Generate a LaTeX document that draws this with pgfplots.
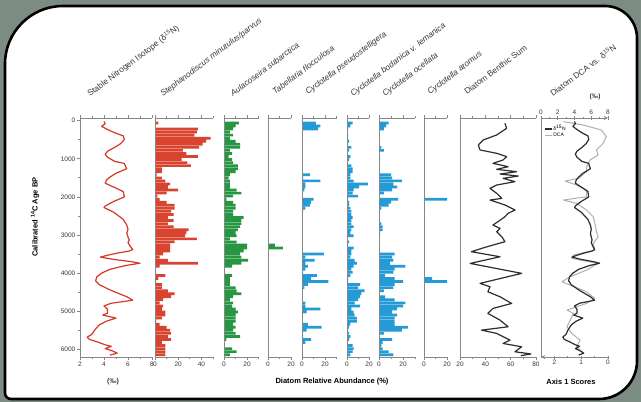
\documentclass[border=0pt]{standalone}
\usepackage{fontspec}
\setmainfont{Liberation Sans}
\usepackage{pgfplots}
\usepackage{pgfplotstable}
\pgfplotsset{compat=1.18}
\definecolor{bgg}{RGB}{124,140,130}
\definecolor{axg}{RGB}{135,135,135}
\definecolor{tlab}{RGB}{55,55,55}
\definecolor{redl}{RGB}{214,56,40}
\definecolor{redf}{RGB}{216,68,48}
\definecolor{grnf}{RGB}{38,150,66}
\definecolor{bluf}{RGB}{36,155,215}
\definecolor{dkl}{RGB}{45,45,45}
\definecolor{dcag}{RGB}{175,175,175}

\pgfplotstableread{
age steph aula tab pseudo bod oce atom
60 3 13 0 12 5 8 0
140 0 10 0 16 3 6 0
220 37 8 0 14 1 4 0
300 36 5 0 0 0 0 0
380 34 8 0 0 1 0 0
460 48 5 0 0 1 0 0
540 44 10 0 0 2 0 0
620 41 14 0 0 1 0 0
700 38 14 0 0 4 2 0
780 24 5 0 0 2 4 0
860 27 7 0 0 0 0 0
940 37 4 0 0 3 0 0
1020 23 7 0 0 2 1 0
1100 28 8 0 0 0 0 0
1180 31 12 0 0 4 0 0
1260 6 12 0 0 5 0 0
1340 6 10 0 0 5 0 0
1420 1.5 5 0 7 3 10 0
1500 6 4 0 1 3 11 0
1580 9 5 0 16 6 19 0
1660 13 5 0 3 19 12 0
1740 11 5 0 3 11 15 0
1820 20 11 0 2 6 11 0
1900 10 15 0 0 5 4 0
1980 2 8 0 0 10 0 0
2060 4 2 0 10 1 16 20
2140 10 8 0 8 2 10 0
2220 17 10 0 7 2 8 0
2300 17 10 0 3 3 2 1
2380 14 8 0 1 4 0 0
2460 16 8 0 0 4 0 0
2540 11 17 0 0 5 0 0
2620 16 15 0 0 4 0 0
2700 11 15 0 0 4 2 0
2780 16 14 0 0 6 3 0
2860 29 12 0 0 4 3 0
2940 27 10 0 0 3 1 0
3020 26 11 0 0 6 0 0
3100 36 5 0 0 0 0 0
3180 17 11 0 0 2 0 0
3260 13 20 6 0 0 0 0
3340 13 20 13 0 6 0 0
3420 13 17 0 0 4 0 0
3500 7 14 0 19 4 13 0
3580 4 15 0 3 3 11 0
3660 11 21 0 11 7 12 0
3740 37 15 0 3 9 9 0
3820 4 7 0 5 6 22 0
3900 0 0 0 3 4 13 0
3980 1 1 0 0 5 12 0
4060 9 7 0 13 3 5 0
4140 3 5 0 8 1 13 7
4220 1 5 0 23 1 20 20
4300 6 5 0 5 12 13 0
4380 6 10 0 2 10 12 0
4460 11 11 0 0 16 4 0
4540 17 15 0 0 13 0 0
4620 14 8 0 0 12 5 0
4700 7 5 0 0 10 13 0
4780 4 8 0 3 7 22 0
4860 7 7 0 3 12 20 0
4940 6 10 0 16 4 15 0
5020 9 12 0 4 6 11 0
5100 9 10 0 0 7 15 0
5180 6 10 0 0 9 13 0
5260 1 10 0 0 9 13 0
5340 4 8 0 5 3 13 0
5420 10 10 0 17 2 24 0
5500 13 8 0 4 1 19 0
5580 14 10 0 0 2 4 0
5660 11 14 0 1 3 0 0
5740 14 2 0 8 2 11 0
5820 6 0 0 3 0 3 0
5900 9 0 0 0 5 2 0
5980 9 7 0 0 6 3 0
6060 9 11 0 0 5 8 0
6140 9 5 0 0 3 12 0
}\bars

\pgfplotstableread{
age val
20 4.0
80 4.1
150 3.8
250 4.4
330 5.0
400 5.6
490 5.7
600 5.4
700 4.9
800 4.3
880 4.1
960 4.3
1070 4.9
1120 5.7
1200 5.8
1260 5.9
1380 5.0
1480 4.5
1560 4.2
1640 4.1
1770 5.0
1860 5.6
2000 5.7
2120 4.8
2240 4.1
2280 4.0
2400 4.8
2590 5.6
2740 5.9
2850 6.0
2960 5.9
3050 6.0
3130 6.1
3200 6.0
3300 6.2
3380 6.4
3420 6.1
3470 5.2
3530 4.3
3580 3.7
3640 4.8
3700 6.3
3740 7.0
3800 5.8
3900 4.5
4000 3.8
4100 3.4
4200 3.3
4300 3.6
4440 4.5
4620 5.9
4710 6.4
4790 4.6
4860 4.0
4950 4.3
5050 4.3
5100 3.9
5180 5.0
5260 4.2
5360 3.6
5500 3.2
5600 3.0
5680 2.6
5740 2.8
5800 3.4
5880 4.1
5920 4.6
5980 4.1
6040 4.7
6100 5.1
6150 4.5
}\dnf

\pgfplotstableread{
age val
69 55.5
200 56.8
375 49
506 38.4
638 34.5
769 35.8
857 49
944 56.8
1032 54
1119 46
1207 58
1277 49
1338 64.7
1400 51.6
1453 66
1513 54
1600 63.4
1688 49
1776 43.7
1907 49
2038 53
2082 43.7
2213 55.5
2344 63.4
2431 58
2519 55.5
2650 50
2738 46
2826 51.6
2913 49
3044 53
3176 55.5
3263 46
3351 37
3438 29
3570 51.6
3745 28
4006 68.7
4269 35.8
4357 43.7
4488 42
4620 51.6
4795 60.8
4926 46
5057 42
5232 51.6
5407 58
5495 37
5582 49
5757 59.5
5845 54
5932 68.7
6063 63.4
6120 76
6165 68
}\benth

\pgfplotstableread{
age val
26 1.66
114 0.92
245 0.25
420 0.06
595 0.18
770 0.43
900 0.37
1032 0.67
1207 0.80
1339 0.80
1514 1.10
1584 1.60
1689 1.17
1820 0.80
1995 0.80
2082 1.66
2170 1.17
2345 0.80
2520 0.55
2695 0.49
2913 0.43
3045 0.37
3220 0.55
3395 0.49
3526 1.29
3613 1.35
3745 0.37
3920 0.80
4094 1.41
4226 1.72
4313 1.41
4488 0.80
4663 0.49
4794 0.80
4882 1.17
4969 1.53
5057 1.29
5232 1.41
5407 1.53
5582 1.35
5757 1.04
5932 1.17
6107 0.92
}\dca

\pgfplotsset{
 panel/.style={
  scale only axis, height=239pt, y dir=reverse, ymin=-70, ymax=6200,
  anchor=north west, enlargelimits=false,
  axis x line=box, axis y line=left,
  axis line style={-, draw=axg, line width=0.9pt},
  ytick=\empty,
  tick align=outside,
  major tick length=3pt, minor tick length=2pt,
  tick style={axg, line width=0.7pt},
  /pgf/number format/assume math mode=true,
  xticklabel style={font=\fontsize{6.5}{7}\selectfont, text=tlab, inner sep=1.5pt},
  yticklabel style={font=\fontsize{6.5}{7}\selectfont, text=tlab, inner sep=1.5pt},
  axis on top,
 },
 hb/.style={xbar, bar width=70, draw=none},
}

\begin{document}
\begin{tikzpicture}[x=1pt,y=1pt]
\fill[bgg] (0,0) rectangle (641,402);
\useasboundingbox (0,0) rectangle (641,402);
\draw[line width=2.6pt, fill=white] (5,9) -- (5,338) arc[start angle=180, end angle=90, radius=58pt]
  -- (605,396) arc[start angle=90, end angle=0, radius=32pt]
  -- (637,41) arc[start angle=0, end angle=-90, radius=38pt]
  -- (11,3) arc[start angle=270, end angle=180, radius=6pt] -- cycle;

% Panel 1: d15N
\begin{axis}[panel, at={(80pt,284pt)}, width=72pt, xmin=2, xmax=8,
  xtick={2,4,6,8}, minor xtick={3,5,7},
  ytick={0,1000,2000,3000,4000,5000,6000}, minor ytick={500,1500,2500,3500,4500,5500},
  yticklabel style={/pgf/number format/.cd, fixed, 1000 sep={}}]
\addplot[redl, line width=1.2pt, line join=round] table[x=val, y=age] {\dnf};
\end{axis}

% Panel 2
\begin{axis}[panel, at={(155pt,284pt)}, width=58pt, xmin=0, xmax=50,
  xtick={0,20,40}, minor xtick={10,30,50}]
\addplot[hb, fill=redf] table[x=steph, y=age] {\bars};
\end{axis}

% Panel 3
\begin{axis}[panel, at={(224pt,284pt)}, width=34.5pt, xmin=0, xmax=30,
  xtick={0,20}, minor xtick={10,30}]
\addplot[hb, fill=grnf] table[x=aula, y=age] {\bars};
\end{axis}

% Panel 4
\begin{axis}[panel, at={(268pt,284pt)}, width=23pt, xmin=0, xmax=20,
  xtick={0,20}, minor xtick={10}]
\addplot[hb, fill=grnf] table[x=tab, y=age] {\bars};
\end{axis}

% Panel 5
\begin{axis}[panel, at={(302pt,284pt)}, width=34.5pt, xmin=0, xmax=30,
  xtick={0,20}, minor xtick={10,30}]
\addplot[hb, fill=bluf] table[x=pseudo, y=age] {\bars};
\end{axis}

% Panel 6
\begin{axis}[panel, at={(347pt,284pt)}, width=22pt, xmin=0, xmax=20,
  xtick={0,20}, minor xtick={10}]
\addplot[hb, fill=bluf] table[x=bod, y=age] {\bars};
\end{axis}

% Panel 7
\begin{axis}[panel, at={(379pt,284pt)}, width=36pt, xmin=0, xmax=30,
  xtick={0,20}, minor xtick={10,30}]
\addplot[hb, fill=bluf] table[x=oce, y=age] {\bars};
\end{axis}

% Panel 8
\begin{axis}[panel, at={(424pt,284pt)}, width=23pt, xmin=0, xmax=20,
  xtick={0,20}, minor xtick={10}]
\addplot[hb, fill=bluf] table[x=atom, y=age] {\bars};
\end{axis}

% Panel 9
\begin{axis}[panel, at={(460pt,284pt)}, width=76pt, xmin=20, xmax=80,
  xtick={20,40,60,80}, minor xtick={30,50,70}]
\addplot[dkl, line width=1.2pt, line join=round] table[x=val, y=age] {\benth};
\end{axis}

% Panel 10: DCA (bottom, reversed)
\begin{axis}[panel, at={(541pt,284pt)}, width=67pt, xmin=0, xmax=2.5, x dir=reverse,
  axis x line=bottom, xtick={0,1,2}, minor xtick={0.5,1.5,2.5}]
\addplot[dcag, line width=1.0pt, line join=round] table[x=val, y=age] {\dca};
\end{axis}
% Panel 10: d15N (top)
\begin{axis}[panel, at={(541pt,284pt)}, width=67pt, xmin=0, xmax=8,
  axis x line=top, axis y line=none, xtick={0,2,4,6,8}, minor xtick={1,3,5,7},
  legend style={at={(0.04,0.975)}, anchor=north west, draw=none, fill=none,
    font=\fontsize{5}{5.5}\selectfont, inner sep=0.5pt, row sep=-1.5pt,
    nodes={inner sep=0.8pt}},
  legend cell align=left, legend image code/.code={\draw[#1] (0pt,0pt) -- (7pt,0pt);}]
\addplot[dkl, line width=1.2pt, line join=round] table[x=val, y=age] {\dnf};
\addlegendentry{δ\textsuperscript{15}N}
\addlegendimage{dcag, line width=0.9pt}
\addlegendentry{DCA}
\end{axis}

% Column titles
\begin{scope}[every node/.style={rotate=37, anchor=base west, text=tlab, inner sep=0pt, font=\fontsize{8.3}{9}\selectfont}]
\node at (90,305) {Stable Nitrogen Isotope (δ\textsuperscript{15}N)};
\node at (163,305) {\itshape Stephanodiscus minutulus/parvus};
\node at (233,305) {\itshape Aulacoseira subarctica};
\node at (275,307) {\itshape Tabellaria flocculosa};
\node at (308,307) {\itshape Cyclotella pseudostelligera};
\node at (353,305) {\itshape Cyclotella bodanica v. lemanica};
\node at (385,305) {\itshape Cyclotella ocellata};
\node at (430,307) {\itshape Cyclotella atomus};
\node at (467,307) {Diatom Benthic Sum};
\node at (553,305) {Diatom DCA vs. δ\textsuperscript{15}N};
\end{scope}

\node[anchor=base, font=\bfseries\fontsize{6.5}{7}\selectfont, text=tlab] at (595,303) {(‰)};
\node[font=\bfseries\fontsize{7}{8}\selectfont, text=tlab] at (113,20) {(‰)};
\node[font=\bfseries\fontsize{7.5}{8}\selectfont, text=black] at (332,20) {Diatom Relative Abundance (\%)};
\node[font=\bfseries\fontsize{7.5}{8}\selectfont, text=black] at (571,20) {Axis 1 Scores};
\node[rotate=90, font=\bfseries\fontsize{7.5}{8}\selectfont, text=black] at (35,185) {Calibrated \textsuperscript{14}C Age BP};
\end{tikzpicture}
\end{document}
